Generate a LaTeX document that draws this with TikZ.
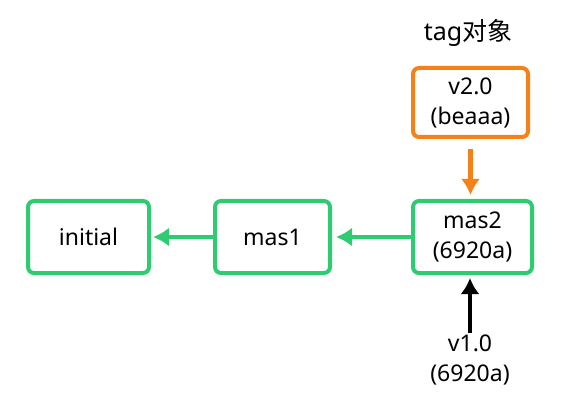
\documentclass[tikz,border=0pt]{standalone}
\usepackage{fontspec}
\setmainfont{Noto Sans}
\newfontfamily\cjk{Noto Sans CJK SC}
\usepackage{tikz}
\usetikzlibrary{arrows.meta,positioning}
\definecolor{commitgreen}{RGB}{46,204,113}
\definecolor{tagorange}{RGB}{245,130,25}

\begin{document}
\begin{tikzpicture}[x=1pt,y=-1pt,
    commit/.style={draw=commitgreen,line width=4pt,rounded corners=6pt,
      minimum height=72pt,align=center,inner sep=2pt,
      font=\fontsize{23}{30}\selectfont},
    tagbox/.style={commit,draw=tagorange,minimum height=69pt},
    label/.style={align=center,inner sep=2pt,font=\fontsize{23}{30}\selectfont},
    link/.style={-{Latex[length=16pt,width=19pt]},line width=4.5pt}]
    \useasboundingbox (0,0) rectangle (576,401);
    \node[commit,minimum width=121pt] (initial) at (88.5,237) {initial};
    \node[commit,minimum width=115pt] (mas1) at (272.5,237) {mas1};
    \node[commit,minimum width=119pt] (mas2) at (472.5,237) {mas2\\(6920a)};
    \node[tagbox,minimum width=115pt] (v2) at (470.5,102.5) {v2.0\\(beaaa)};
    \node[label,font=\fontsize{25}{30}\selectfont] (tagtitle) at (468,33) {tag{\cjk 对象}};
    \node[label] (v1) at (470,360) {v1.0\\(6920a)};
    % history links
    \draw[link,commitgreen] (mas2.west) -- ([xshift=4pt]mas1.east);
    \draw[link,commitgreen] (mas1.west) -- ([xshift=2pt]initial.east);
    % tag pointers
    \draw[link,tagorange] ([yshift=-10pt]v2.south) -- ([yshift=4pt]v2.south |- mas2.north);
    \draw[link] (v1.north) -- ([yshift=-3pt]v1.north |- mas2.south);
  \end{tikzpicture}
\end{document}
